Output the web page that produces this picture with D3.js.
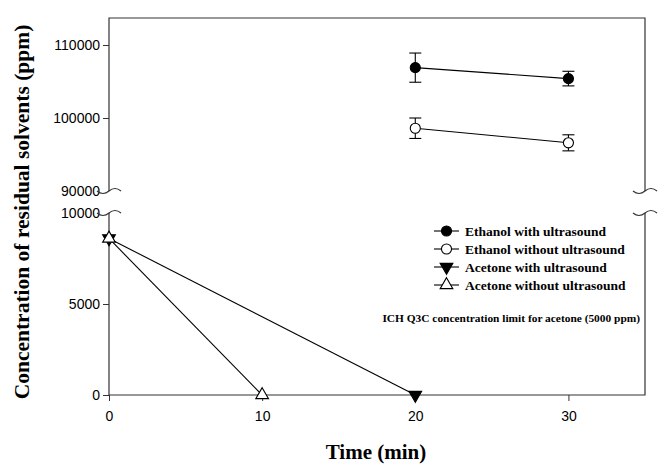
<!DOCTYPE html>
<html lang="en">
<head>
  <meta charset="UTF-8">
  <title>Residual solvents</title>
  <script src="https://d3js.org/d3.v7.min.js"></script>
  <style>
    body { margin: 0; background: #fff; }
    .tick text { font-family: "Liberation Sans", Arial, sans-serif; font-size: 14px; fill: #000; }
    .tick line { stroke: #333; }
    .legend text { font-family: "Liberation Serif", "Times New Roman", serif; font-weight: bold; font-size: 13.5px; }
    .legend .note { font-size: 11.4px; }
  </style>
</head>
<body>
  <svg></svg>
  <script>
    // data
    const xTicks = [0, 10, 20, 30];
    const topTicks = [90000, 100000, 110000];
    const bottomTicks = [0, 5000, 10000];

    const ethanolTimes = [20, 30];
    const ethanolWith = [106900, 105400];
    const ethanolWithErr = [2000, 1000];
    const ethanolWithout = [98600, 96600];
    const ethanolWithoutErr = [1400, 1100];

    const acetoneWithTimes = [0, 20];
    const acetoneWith = [8600, 0];
    const acetoneWithoutTimes = [0, 10];
    const acetoneWithout = [8600, 0];

    const legendLabels = ["Ethanol with ultrasound", "Ethanol without ultrasound",
      "Acetone with ultrasound", "Acetone without ultrasound"];
    const note = "ICH Q3C concentration limit for acetone (5000 ppm)";

    const width = 666, height = 465;
    const left = 109, right = 645;

    const svg = d3.select("svg").attr("width", width).attr("height", height);

    const x = d3.scaleLinear().domain([0, 35]).range([left, right]);
    const yTop = d3.scaleLinear().domain([90000, 113700]).range([191, 18]);
    const yBot = d3.scaleLinear().domain([0, 10000]).range([395, 213]);

    // axes
    const gTop = svg.append("g").attr("transform", `translate(${left},0)`)
      .call(d3.axisLeft(yTop).tickValues(topTicks).tickSize(6).tickSizeOuter(0).tickFormat(d3.format("d")));
    gTop.select(".domain").remove();
    gTop.selectAll(".tick").filter(d => d === 90000).select("line").remove();

    const gBot = svg.append("g").attr("transform", `translate(${left},0)`)
      .call(d3.axisLeft(yBot).tickValues(bottomTicks).tickSize(6).tickSizeOuter(0).tickFormat(d3.format("d")));
    gBot.select(".domain").remove();
    gBot.selectAll(".tick").filter(d => d === 10000).select("line").remove();

    const gx = svg.append("g").attr("transform", `translate(0,${yBot(0)})`)
      .call(d3.axisBottom(x).tickValues(xTicks).tickSize(6).tickSizeOuter(0));
    gx.select(".domain").remove();
    gx.selectAll(".tick text").attr("dy", "1.2em");

    const frame = svg.append("g").attr("stroke", "#333").attr("stroke-width", 1.2).attr("fill", "none");
    // upper panel: left, top, right
    frame.append("path").attr("d", `M${left},${yTop(90000)}V${yTop.range()[1]}H${right}V${yTop(90000)}`);
    // lower panel: left, bottom, right
    frame.append("path").attr("d", `M${left},${yBot(10000)}V${yBot(0)}H${right}V${yBot(10000)}`);

    // break marks
    function brk(cx, cy) {
      frame.append("path").attr("d", `M${cx - 12},${cy} q6,5 12,0 t12,0`);
    }
    brk(left, yTop(90000));
    brk(left, yBot(10000));
    brk(right, yTop(90000));
    brk(right, yBot(10000));

    // lines
    const line = (xs, ys, yScale) => d3.line()(xs.map((t, i) => [x(t), yScale(ys[i])]));
    const lines = svg.append("g").attr("stroke", "#000").attr("stroke-width", 1.1).attr("fill", "none");
    lines.append("path").attr("d", line(ethanolTimes, ethanolWith, yTop));
    lines.append("path").attr("d", line(ethanolTimes, ethanolWithout, yTop));
    lines.append("path").attr("d", line(acetoneWithTimes, acetoneWith, yBot));
    lines.append("path").attr("d", line(acetoneWithoutTimes, acetoneWithout, yBot));

    // error bars
    function errBars(ys, errs) {
      const g = svg.append("g").attr("stroke", "#000").attr("stroke-width", 1.1);
      ethanolTimes.forEach((t, i) => {
        const cx = x(t), y1 = yTop(ys[i] + errs[i]), y2 = yTop(ys[i] - errs[i]);
        g.append("line").attr("x1", cx).attr("x2", cx).attr("y1", y1).attr("y2", y2);
        g.append("line").attr("x1", cx - 6).attr("x2", cx + 6).attr("y1", y1).attr("y2", y1);
        g.append("line").attr("x1", cx - 6).attr("x2", cx + 6).attr("y1", y2).attr("y2", y2);
      });
    }
    errBars(ethanolWith, ethanolWithErr);
    errBars(ethanolWithout, ethanolWithoutErr);

    // markers
    const sym = {
      filledCircle: { type: d3.symbolCircle, size: 80, fill: "#000", rot: 0 },
      openCircle: { type: d3.symbolCircle, size: 80, fill: "#fff", rot: 0 },
      filledTri: { type: d3.symbolTriangle, size: 70, fill: "#000", rot: 180 },
      openTri: { type: d3.symbolTriangle, size: 70, fill: "#fff", rot: 0 }
    };
    function marker(g, s, px, py) {
      g.append("path")
        .attr("d", d3.symbol().type(s.type).size(s.size)())
        .attr("transform", `translate(${px},${py}) rotate(${s.rot})`)
        .attr("fill", s.fill).attr("stroke", "#000").attr("stroke-width", 1.1);
    }
    const marks = svg.append("g");
    ethanolTimes.forEach((t, i) => marker(marks, sym.filledCircle, x(t), yTop(ethanolWith[i])));
    ethanolTimes.forEach((t, i) => marker(marks, sym.openCircle, x(t), yTop(ethanolWithout[i])));
    acetoneWithTimes.forEach((t, i) => marker(marks, sym.filledTri, x(t), yBot(acetoneWith[i])));
    acetoneWithoutTimes.forEach((t, i) => marker(marks, sym.openTri, x(t), yBot(acetoneWithout[i])));

    // legend
    const legend = svg.append("g").attr("class", "legend");
    const kinds = [sym.filledCircle, sym.openCircle, sym.filledTri, sym.openTri];
    legendLabels.forEach((lab, i) => {
      const ly = 231 + i * 18;
      legend.append("line").attr("x1", 434).attr("x2", 459).attr("y1", ly).attr("y2", ly)
        .attr("stroke", "#000").attr("stroke-width", 1.1);
      marker(legend, kinds[i], 446.5, ly);
      legend.append("text").attr("x", 465).attr("y", ly).attr("dy", "0.35em").text(lab);
    });
    legend.append("text").attr("class", "note").attr("x", 640).attr("y", 318).attr("dy", "0.35em")
      .attr("text-anchor", "end").text(note);

    // axis titles
    svg.append("text")
      .attr("x", 376).attr("y", 459)
      .attr("text-anchor", "middle")
      .style("font-family", "'Liberation Serif', 'Times New Roman', serif")
      .style("font-weight", "bold").style("font-size", "21px")
      .text("Time (min)");
    svg.append("text")
      .attr("transform", "translate(29,212) rotate(-90)")
      .attr("text-anchor", "middle")
      .style("font-family", "'Liberation Serif', 'Times New Roman', serif")
      .style("font-weight", "bold").style("font-size", "21.5px")
      .text("Concentration of residual solvents (ppm)");
  </script>
</body>
</html>
